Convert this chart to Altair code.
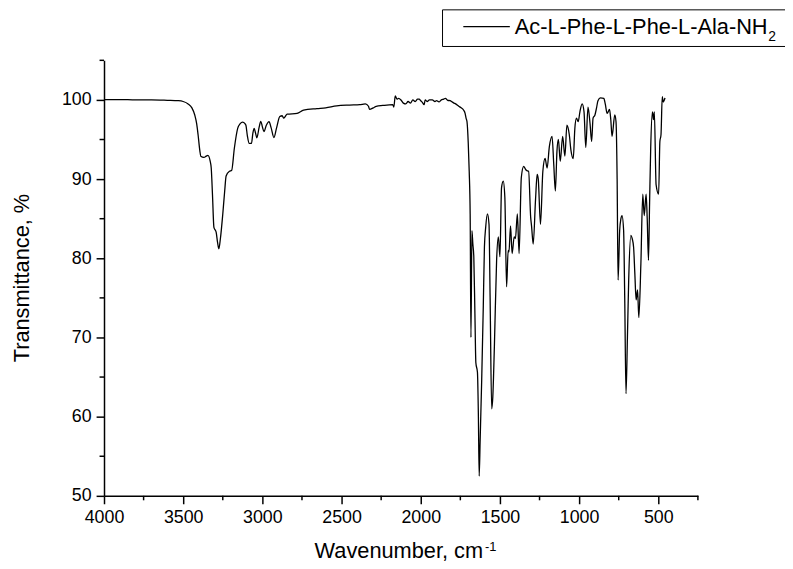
import altair as alt
import pandas as pd

# ---- data ----
wavenumber = [
    4000, 3900, 3800, 3700, 3600, 3531, 3500, 3469, 3445, 3427, 3415, 3406, 3395, 3389,
    3369, 3355, 3344, 3330, 3323, 3315, 3306, 3292, 3283, 3275, 3265, 3250, 3238, 3229,
    3208, 3194, 3177, 3156, 3140, 3125, 3110, 3104, 3095, 3083, 3069, 3060, 3052, 3043,
    3035, 3020, 3010, 3000, 2990, 2975, 2958, 2945, 2927, 2910, 2890, 2875, 2865, 2844,
    2781, 2740, 2656, 2600, 2531, 2450, 2385, 2350, 2330, 2323, 2300, 2281, 2240, 2177,
    2170, 2161, 2150, 2140, 2125, 2110, 2094, 2080, 2065, 2050, 2035, 2020, 2010, 2000,
    1990, 1979, 1972, 1960, 1945, 1927, 1910, 1900, 1885, 1870, 1855, 1844, 1830, 1815,
    1802, 1790, 1780, 1760, 1745, 1729, 1720, 1714, 1708, 1700, 1694, 1688, 1683, 1677,
    1671, 1665, 1658, 1652, 1642, 1636, 1631, 1625, 1615, 1605, 1598, 1590, 1579, 1569,
    1562, 1552, 1545, 1535, 1521, 1510, 1500, 1490, 1479, 1469, 1458, 1448, 1443, 1433,
    1423, 1410, 1402, 1390, 1379, 1365, 1350, 1340, 1333, 1319, 1306, 1300, 1290, 1275,
    1265, 1258, 1244, 1229, 1215, 1202, 1188, 1171, 1160, 1150, 1140, 1131, 1119, 1104,
    1090, 1077, 1062, 1052, 1037, 1027, 1017, 1006, 995, 981, 969, 958, 944, 931,
    921, 912, 900, 890, 881, 865, 844, 835, 823, 808, 800, 792, 775, 767,
    760, 754, 744, 736, 729, 719, 712, 704, 695, 687, 673, 665, 656, 648,
    640, 631, 623, 610, 598, 589, 577, 570, 562, 555, 548, 537, 531, 525,
    514, 498, 490, 483, 475, 469, 458,
]
transmittance = [
    100.05, 100.05, 100.0, 100.0, 99.95, 99.9, 99.8, 99.5, 99.0, 98.1, 97.0, 95.6, 93.6, 92.9,
    92.75, 92.9, 93.0, 92.3, 91.4, 88.0, 83.9, 83.3, 82.0, 81.2, 82.5, 85.6, 88.5, 90.4,
    91.0, 91.1, 93.9, 96.4, 97.0, 97.2, 97.0, 96.8, 95.5, 94.5, 94.5, 95.8, 96.4, 95.8,
    95.2, 96.6, 97.3, 96.6, 96.0, 96.8, 97.25, 96.5, 95.25, 96.5, 97.9, 98.0, 97.7, 98.2,
    98.3, 98.7, 98.9, 99.0, 99.25, 99.35, 99.4, 99.5, 99.2, 98.8, 99.0, 99.2, 99.3, 99.4,
    99.1, 100.5, 100.1, 100.2, 100.0, 99.6, 99.5, 99.8, 99.6, 100.0, 99.8, 100.1, 100.1, 99.9,
    99.7, 99.4, 100.0, 99.8, 100.0, 100.0, 99.8, 99.9, 99.75, 100.0, 100.1, 100.2, 99.95, 99.9,
    99.75, 99.6, 99.5, 99.2, 99.0, 98.7, 98.3, 97.7, 97.25, 94.5, 91.0, 85.6, 70.0, 83.5,
    81.8, 80.2, 73.0, 66.8, 65.6, 60.0, 52.5, 57.0, 64.75, 74.0, 81.4, 83.9, 85.6, 84.3,
    75.0, 61.0, 62.5, 68.9, 79.75, 82.7, 80.2, 88.9, 89.75, 87.7, 76.4, 81.0, 80.8, 84.1,
    80.6, 82.7, 82.5, 85.6, 80.6, 90.2, 91.6, 91.3, 91.1, 91.0, 85.2, 84.0, 81.8, 87.5,
    90.6, 90.0, 84.3, 91.0, 92.6, 91.4, 94.1, 95.4, 91.8, 88.5, 93.5, 95.0, 92.25, 95.4,
    92.9, 96.8, 95.6, 93.7, 92.6, 96.4, 97.7, 97.25, 98.5, 99.5, 98.5, 94.0, 99.1, 97.0,
    94.75, 97.7, 98.1, 99.0, 99.9, 100.25, 100.2, 99.5, 98.3, 98.8, 97.5, 95.4, 98.1, 97.25,
    90.0, 77.25, 83.5, 85.0, 85.4, 83.5, 75.0, 62.9, 70.0, 77.25, 82.9, 82.5, 81.4, 78.0,
    74.75, 76.0, 72.5, 79.3, 88.1, 85.4, 88.1, 85.0, 79.75, 87.0, 93.9, 98.5, 97.5, 98.5,
    89.3, 88.1, 94.75, 95.6, 100.4, 99.75, 100.25,
]

x_major = [4000, 3500, 3000, 2500, 2000, 1500, 1000, 500]
x_minor = [3750, 3250, 2750, 2250, 1750, 1250, 750, 250]
y_major = [50, 60, 70, 80, 90, 100]
y_minor = [55, 65, 75, 85, 95, 105]

series_name = "Ac-L-Phe-L-Phe-L-Ala-NH"
series_sub = "2"
x_title = "Wavenumber, cm"
x_title_sup = "-1"
y_title = "Transmittance, %"

FONT = "Liberation Sans"
W, H = 600, 440

df = pd.DataFrame({"wn": wavenumber, "T": transmittance})
df_xminor = pd.DataFrame({"wn": x_minor})
df_yminor = pd.DataFrame({"T": y_minor})
one = pd.DataFrame({"a": [0]})

xscale = alt.Scale(domain=[250, 4000], reverse=True, nice=False, zero=False)
yscale = alt.Scale(domain=[50, 105], nice=False, zero=False)

axis_common = dict(
    labelFont=FONT, labelFontSize=18, labelColor="black",
    tickColor="black", tickSize=8, tickWidth=1.5,
    domainColor="black", domainWidth=1.5, grid=False, title=None,
    labelFlush=False, labelOverlap=False, format="d", labelPadding=5,
)
xaxis = alt.Axis(values=x_major, **axis_common)
yaxis = alt.Axis(values=y_major, **axis_common)

line = alt.Chart(df).mark_line(color="black", strokeWidth=1.3, interpolate="monotone").encode(
    x=alt.X("wn:Q", scale=xscale, axis=xaxis),
    y=alt.Y("T:Q", scale=yscale, axis=yaxis),
)

xminor = alt.Chart(df_xminor).mark_rule(color="black", strokeWidth=1.5).encode(
    x=alt.X("wn:Q", scale=xscale, axis=xaxis),
    y=alt.value(H), y2=alt.value(H + 4.5),
)
yminor = alt.Chart(df_yminor).mark_rule(color="black", strokeWidth=1.5).encode(
    y=alt.Y("T:Q", scale=yscale, axis=yaxis),
    x=alt.value(0), x2=alt.value(-4.5),
)

legend_box = alt.Chart(one).mark_rect(fill="white", stroke="black", strokeWidth=1).encode(
    x=alt.value(342), x2=alt.value(700), y=alt.value(-51), y2=alt.value(-14),
)
legend_line = alt.Chart(one).mark_rule(color="black", strokeWidth=1.3).encode(
    x=alt.value(363), x2=alt.value(410), y=alt.value(-34),
)
legend_text = alt.Chart(one).mark_text(
    text=series_name, font=FONT, fontSize=22, align="left", baseline="alphabetic", color="black"
).encode(x=alt.value(415), y=alt.value(-27))
legend_sub = alt.Chart(one).mark_text(
    text=series_sub, font=FONT, fontSize=14, align="left", baseline="alphabetic", color="black"
).encode(x=alt.value(671), y=alt.value(-20))

xt = alt.Chart(one).mark_text(
    text=x_title, font=FONT, fontSize=22, align="right", baseline="alphabetic", color="black"
).encode(x=alt.value(383), y=alt.value(503))
xt_sup = alt.Chart(one).mark_text(
    text=x_title_sup, font=FONT, fontSize=13, align="left", baseline="alphabetic", color="black"
).encode(x=alt.value(385), y=alt.value(496))
yt = alt.Chart(one).mark_text(
    text=y_title, font=FONT, fontSize=22, align="center", baseline="middle", angle=270, color="black"
).encode(x=alt.value(-83), y=alt.value(220))

chart = alt.layer(
    line, xminor, yminor, legend_box, legend_line, legend_text, legend_sub, xt, xt_sup, yt
).properties(
    width=W, height=H,
    autosize=alt.AutoSizeParams(type="none"),
    padding={"left": 97, "top": 50, "right": 88, "bottom": 67},
    background="white",
).configure_view(stroke=None)

chart.save("out.html", embed_options={"renderer": "svg", "actions": False})
